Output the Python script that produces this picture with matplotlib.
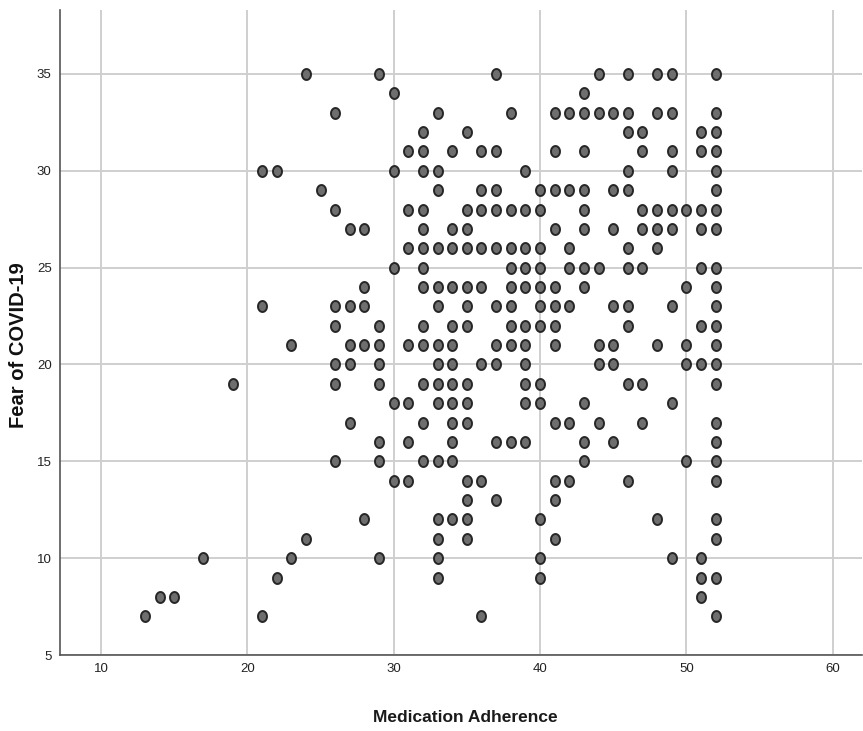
import numpy as np
import matplotlib
matplotlib.use("Agg")
import matplotlib.pyplot as plt
from matplotlib.path import Path

# Medication Adherence value -> list of Fear of COVID-19 values
adherence_levels = [13, 14, 15, 17, 19, 21, 22, 23, 24, 25, 26, 27, 28, 29, 30,
                    31, 32, 33, 34, 35, 36, 37, 38, 39, 40, 41, 42, 43, 44, 45,
                    46, 47, 48, 49, 50, 51, 52]
fear_by_level = [
    [7], [8], [8], [10], [19],
    [30, 23, 7],
    [30, 9],
    [21, 10],
    [35, 11],
    [29],
    [33, 28, 23, 22, 20, 19, 15],
    [27, 23, 21, 20, 17],
    [27, 24, 23, 21, 12],
    [35, 22, 21, 20, 19, 16, 15, 10],
    [34, 30, 25, 18, 14],
    [31, 28, 26, 21, 18, 16, 14],
    [32, 31, 30, 28, 27, 26, 25, 24, 22, 21, 19, 17, 15],
    [33, 30, 29, 26, 24, 23, 21, 20, 19, 18, 15, 12, 11, 10, 9],
    [31, 27, 26, 24, 22, 21, 20, 19, 18, 17, 16, 15, 12],
    [32, 28, 27, 26, 24, 23, 22, 19, 18, 17, 14, 13, 12, 11],
    [31, 29, 28, 26, 24, 20, 14, 7],
    [35, 31, 29, 28, 26, 23, 21, 20, 16, 13],
    [33, 28, 26, 25, 24, 23, 22, 21, 16],
    [30, 28, 26, 25, 24, 22, 21, 20, 19, 18, 16],
    [29, 28, 26, 25, 24, 23, 22, 19, 18, 12, 10, 9],
    [33, 31, 29, 27, 24, 23, 22, 21, 17, 14, 13, 11],
    [33, 29, 26, 25, 23, 17, 14],
    [34, 33, 31, 29, 28, 27, 25, 24, 18, 16, 15],
    [35, 33, 25, 21, 20, 17],
    [33, 29, 27, 23, 21, 20, 16],
    [35, 33, 32, 30, 29, 26, 25, 23, 22, 19, 14],
    [32, 31, 28, 27, 25, 19, 17],
    [35, 33, 28, 27, 26, 21, 12],
    [35, 33, 31, 30, 28, 27, 23, 18, 10],
    [28, 24, 21, 20, 15],
    [32, 31, 28, 27, 25, 22, 20, 10, 9, 8],
    [35, 33, 32, 31, 30, 29, 28, 27, 25, 24, 23, 22, 21, 20, 19, 17, 16, 15,
     14, 12, 11, 9, 7],
]

x_ticks = [10, 20, 30, 40, 50, 60]
y_ticks = [5, 10, 15, 20, 25, 30, 35]
x_label = "Medication Adherence"
y_label = "Fear of COVID-19"

xs = []
ys = []
for a, fears in zip(adherence_levels, fear_by_level):
    for f in fears:
        xs.append(a)
        ys.append(f)

# slightly tall elliptical marker like the reference
t = np.linspace(0, 2 * np.pi, 60)
ell = Path(np.column_stack([0.82 * np.cos(t), np.sin(t)]), closed=True)

fig = plt.figure(figsize=(8.63, 7.31), dpi=100)
ax = fig.add_axes([60 / 863, 1 - 655 / 731, 802 / 863, 645 / 731])

ax.scatter(xs, ys, marker=ell, s=62, facecolor="#6e6e6e",
           edgecolor="#262626", linewidth=1.4, zorder=3)

ax.set_xlim(7.2, 62.0)
ax.set_ylim(5, 38.3)
ax.set_xticks(x_ticks)
ax.set_yticks(y_ticks)
ax.grid(True, color="#cfcfcf", linewidth=1.4, zorder=0)
ax.set_axisbelow(True)

for s in ["top", "right"]:
    ax.spines[s].set_visible(False)
for s in ["left", "bottom"]:
    ax.spines[s].set_color("#555555")
    ax.spines[s].set_linewidth(1.2)

ax.tick_params(axis="both", length=0, pad=6, labelsize=9.5, colors="#222222")
for lbl in ax.get_xticklabels() + ax.get_yticklabels():
    lbl.set_family(["Liberation Sans", "DejaVu Sans"])

fig.text(465 / 863, 1 - 718 / 731, x_label, ha="center", va="center",
         fontsize=12.5, fontweight="bold", color="#1a1a1a",
         family=["Liberation Sans Narrow", "Liberation Sans", "DejaVu Sans"])
fig.text(18 / 863, 1 - 345 / 731, y_label, ha="center", va="center",
         rotation=90, fontsize=14.5, fontweight="bold", color="#111111",
         family=["Liberation Sans", "DejaVu Sans"])

fig.savefig("out.png", dpi=100)
